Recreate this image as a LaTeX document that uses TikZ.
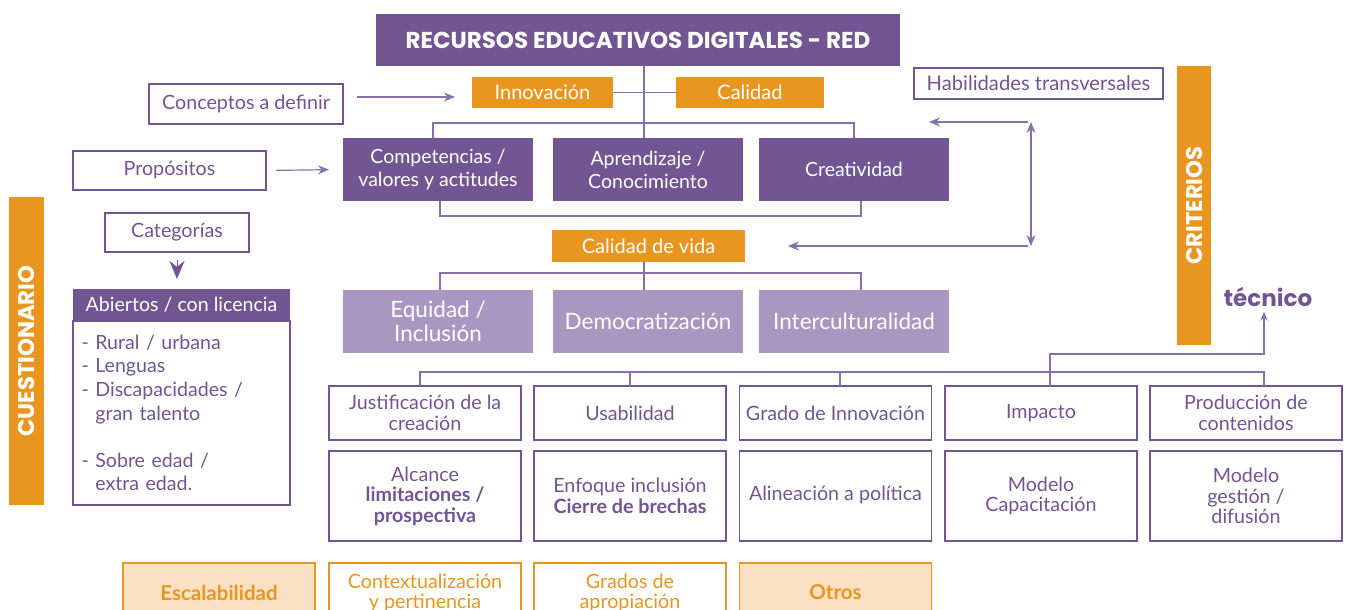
\documentclass[tikz,border=0pt]{standalone}
\usepackage{fontspec}
\setmainfont{Lato}
\newfontfamily\headfont{Poppins}
\usetikzlibrary{arrows.meta,positioning,calc}
\definecolor{purp}{HTML}{725593}
\definecolor{lpurp}{HTML}{A997C1}
\definecolor{lnkc}{HTML}{8A70AA}
\definecolor{orng}{HTML}{E8961F}
\definecolor{peach}{HTML}{FAE1C3}
\begin{document}
\begin{tikzpicture}[x=1pt,y=-1pt,
        every node/.style={align=center, inner sep=0pt, outer sep=0pt},
        sz/.style 2 args={minimum width=#1, minimum height=#2},
        dark/.style={fill=purp, text=white, font=\fontsize{19.5}{23}\selectfont},
        lite/.style={fill=lpurp, text=white, font=\fontsize{22.5}{24}\selectfont},
        orng/.style={fill=orng, text=white, font=\fontsize{20}{22}\selectfont},
        outl/.style={draw=purp, line width=1.6pt, fill=white, text=purp, font=\fontsize{19.7}{20.5}\selectfont},
        obox/.style={draw=orng, line width=1.6pt, fill=white, text=orng, font=\fontsize{19.7}{20.5}\selectfont},
        bar/.style={fill=orng, text=white, font=\headfont\bfseries\fontsize{22.7}{26}\selectfont},
        lnk/.style={draw=lnkc, line width=1.2pt},
        arr/.style={lnk, -{Stealth[length=11pt,width=9pt]}},
    ]
    \useasboundingbox (0,0) rectangle (1349,610);
    \clip (0,0) rectangle (1349,610);
    % top
    \node[fill=purp, text=white, sz={524}{52}, font=\headfont\bfseries\fontsize{23}{26}\selectfont] (red) at (638,40) {RECURSOS EDUCATIVOS DIGITALES - RED};
    \node[orng, sz={141}{31}] (innov) at (542.5,92.5) {Innovación};
    \node[orng, sz={148}{31}] (calid) at (750,92.5) {Calidad};
    \node[dark, sz={190}{63}] (compet) at (438,169.5) {Competencias /\\valores y actitudes};
    \node[dark, sz={190}{63}] (aprend) at (648,169.5) {Aprendizaje /\\Conocimiento};
    \node[dark, sz={190}{63}] (creat) at (854,169.5) {Creatividad};
    \node[orng, sz={193}{32}] (calvida) at (648.5,246) {Calidad de vida};
    \node[lite, sz={190}{63}] (equid) at (438,321.5) {Equidad /\\Inclusión};
    \node[lite, sz={190}{63}] (democ) at (648,321.5) {Democratización};
    \node[lite, sz={190}{63}] (intercul) at (854,321.5) {Interculturalidad};
    % left side
    \node[outl, sz={194}{40}] (concep) at (246,104) {Conceptos a definir};
    \node[outl, sz={193}{39}] (propos) at (169.5,170.5) {Propósitos};
    \node[outl, sz={144}{39}] (categ) at (177,232.5) {Categorías};
    \node[fill=purp, text=white, sz={217}{32}, font=\fontsize{19.6}{22}\selectfont] (abhead) at (181.5,305) {Abiertos / con licencia};
    \node[outl, sz={217}{184}, text width=200pt, align=left, font=\fontsize{19.6}{23.6}\selectfont,
        below=0pt of abhead] (abbody) {- Rural / urbana\\- Lenguas\\- Discapacidades /\\\phantom{- }gran talento\\[23.6pt]- Sobre edad /\\\phantom{- }extra edad.};
    \node[bar, sz={35}{308}] (cuest) at (26.5,351) {\rotatebox{90}{CUESTIONARIO}};
    % right side
    \node[outl, sz={249}{31}, font=\fontsize{20.2}{22}\selectfont] (habil) at (1038.5,83.5) {Habilidades transversales};
    \node[bar, sz={34}{279}] (crit) at (1194,205.5) {\rotatebox{90}{CRITERIOS}};
    \node[text=purp, font=\headfont\bfseries\fontsize{23}{26}\selectfont] (tecn) at (1268,297) {técnico};
    % criterios
    \node[outl, sz={192}{54}] (justif) at (425,413) {Justificación de la\\creación};
    \node[outl, sz={192}{54}] (usab) at (630,413) {Usabilidad};
    \node[outl, sz={192}{54}] (grado) at (835.5,413) {Grado de Innovación};
    \node[outl, sz={192}{54}] (impac) at (1041,413) {Impacto};
    \node[outl, sz={192}{54}] (produc) at (1246,413) {Producción de\\contenidos};
    \node[outl, sz={192}{90}] (alcan) at (425,496) {Alcance\\\textbf{limitaciones /}\\\textbf{prospectiva}};
    \node[outl, sz={192}{90}] (enfoq) at (630,496) {Enfoque inclusión\\\textbf{Cierre de brechas}};
    \node[outl, sz={192}{90}] (aline) at (835.5,496) {\raisebox{6pt}{Alineación a política}};
    \node[outl, sz={192}{90}] (capac) at (1041,496) {Modelo\\Capacitación};
    \node[outl, sz={192}{90}] (gesti) at (1246,496) {Modelo\\gestión /\\difusión};
    \node[obox, fill=peach, sz={192}{60}, font=\bfseries\fontsize{20.5}{22}\selectfont] (escal) at (219,593) {Escalabilidad};
    \node[obox, sz={192}{60}] (contex) at (425,593) {Contextualización\\y pertinencia};
    \node[obox, sz={192}{60}] (aprop) at (630,593) {Grados de\\apropiación};
    \node[obox, fill=peach, sz={192}{60}, font=\bfseries\fontsize{20.5}{22}\selectfont] (otros) at (835.5,593) {\raisebox{2pt}{Otros}};
    % connectors
    \draw[lnk] ([xshift=6pt]red.south) -- ([xshift=-4pt]aprend.north);
    \draw[lnk] (innov.east) -- (calid.west);
    \draw[lnk] ([xshift=-5pt]compet.north) -- ++(0,-15) -| (creat.north);
    \draw[lnk] (compet.south) ++(2,0) -- ++(0,15) -| ([xshift=7pt]creat.south);
    \draw[lnk] ([xshift=-4.5pt]calvida.south) -- ([xshift=-4pt]democ.north);
    \draw[lnk] ([xshift=2pt]equid.north) -- ++(0,-17) -| ([xshift=7pt]intercul.north);
    \draw[arr, shorten <=14pt, shorten >=17pt] (concep.east) ++(0,-7) coordinate (c1) -- (c1 -| innov.west);
    \draw[arr, shorten <=10pt, shorten >=14pt] (propos.east) -- (compet.west);
    \draw[-{Stealth[length=18pt,width=15pt]}, purp, shorten <=8pt, shorten >=10pt] (categ.south) -- (abhead.north -| categ.south);
    \coordinate (hA) at (1031,122);
    \coordinate (hB) at (1031,246);
    \draw[arr] ([xshift=-3pt]hA) -- ++(-99,0);
    \draw[arr] ([xshift=-3pt]hB) -- ++(-240,0);
    \draw[lnk, {Stealth[length=11pt,width=9pt]}-{Stealth[length=11pt,width=9pt]}] (hA) -- (hB);
    \draw[lnk] ([xshift=-5pt]justif.north) -- ++(0,-14) -| ([xshift=18pt]produc.north);
    \draw[lnk] (usab.north) -- ++(0,-14);
    \draw[lnk] ([xshift=4.5pt]grado.north) -- ++(0,-14);
    \draw[lnk, -{Stealth[length=9pt,width=7pt]}, shorten >=5pt] ([xshift=9pt]impac.north) -- ++(0,-32) -| ([xshift=-4pt]tecn.south);
\end{tikzpicture}
\end{document}
